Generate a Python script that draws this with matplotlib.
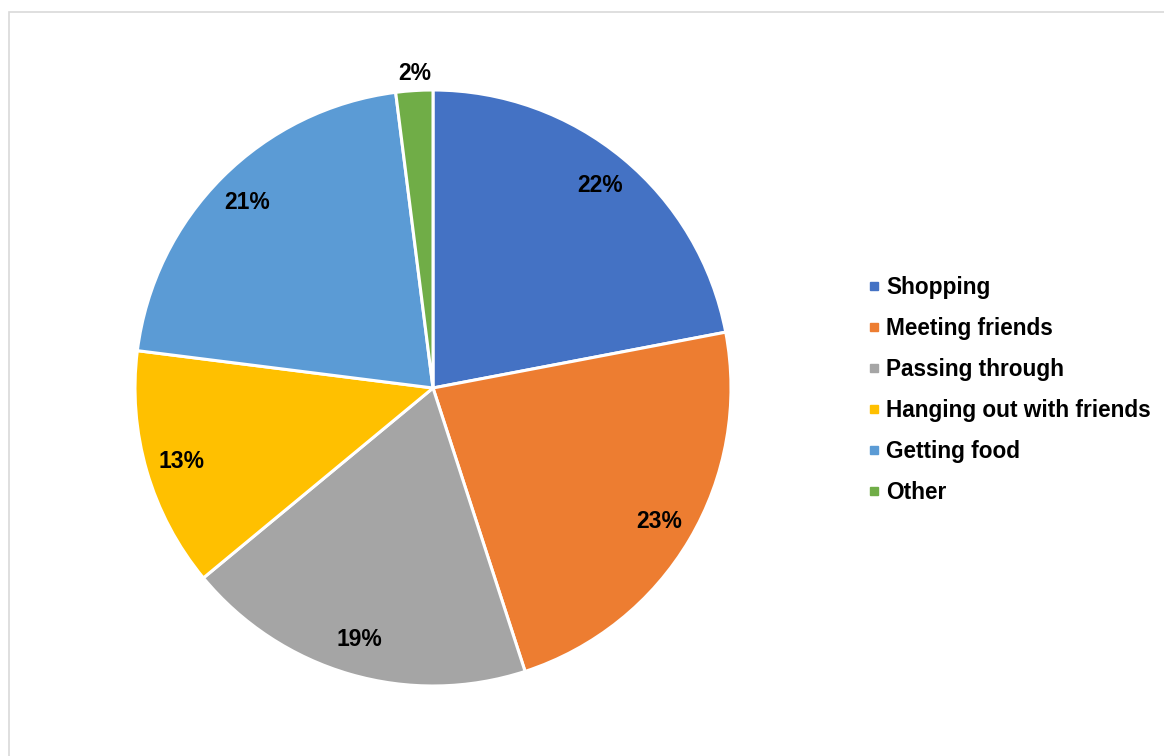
import matplotlib
matplotlib.use("Agg")
import matplotlib.pyplot as plt
from matplotlib.lines import Line2D
from matplotlib.patches import Rectangle

plt.rcParams['font.family'] = ['Liberation Sans', 'DejaVu Sans']

categories = ["Shopping", "Meeting friends", "Passing through",
              "Hanging out with friends", "Getting food", "Other"]
shares = [22, 23, 19, 13, 21, 2]
colors = ["#4472C4", "#ED7D31", "#A5A5A5", "#FFC000", "#5B9BD5", "#70AD47"]

fig = plt.figure(figsize=(11.64, 7.56), dpi=100)
fig.patch.set_facecolor("white")

# light chart-area frame
fig.add_artist(Rectangle((9 / 1164, -0.05), 1.1, 0.05 + (756 - 12) / 756,
                         transform=fig.transFigure, fill=False,
                         edgecolor="#D9D9D9", linewidth=1.2))

ax = fig.add_axes([135 / 1164, 70 / 756, 596 / 1164, 596 / 756])
wedges, texts, autotexts = ax.pie(
    shares, colors=colors, startangle=90, counterclock=False,
    radius=1, autopct="%d%%", pctdistance=0.88,
    wedgeprops=dict(edgecolor="white", linewidth=2.2),
    textprops=dict(fontsize=16.5, fontweight="bold", color="black"))

# the small slice gets its label outside the pie
autotexts[-1].set_position((-0.06, 1.057))

ax.set_xlim(-1, 1)
ax.set_ylim(-1, 1)
ax.set_aspect("equal")
ax.axis("off")

handles = [Line2D([], [], marker="s", linestyle="none", markersize=6,
                  markerfacecolor=c, markeredgecolor=c) for c in colors]
fig.legend(handles, categories, loc="center left",
           bbox_to_anchor=(867 / 1164, 1 - 390 / 756),
           frameon=False, handlelength=0.6, handletextpad=0.25,
           labelspacing=0.80, borderaxespad=0, borderpad=0,
           prop=dict(size=16.3, weight="bold"))

fig.savefig("out.png", dpi=100)
